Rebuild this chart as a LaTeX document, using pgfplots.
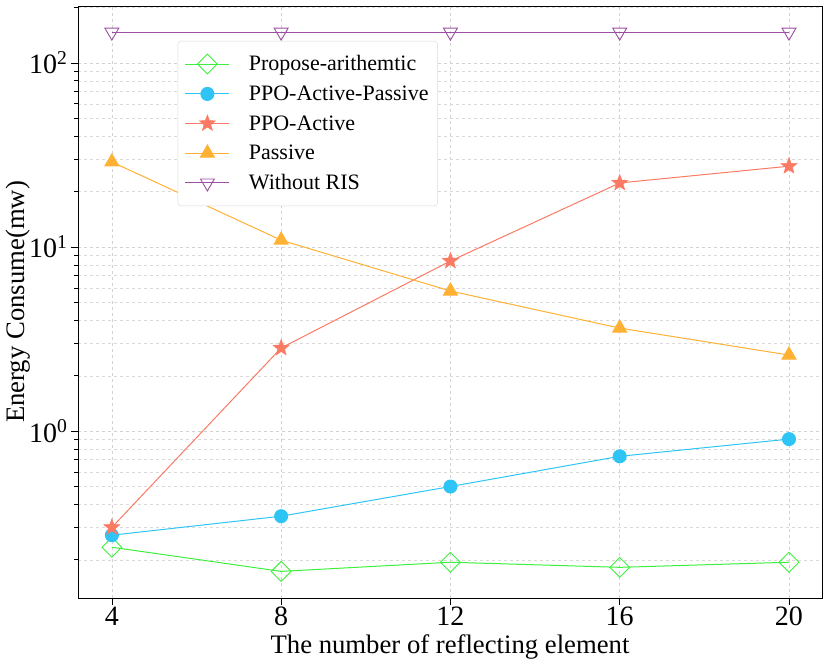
\documentclass[border=0pt]{standalone}
\usepackage{pgfplots}
\pgfplotsset{compat=1.18}
\usepackage{fontspec}
\setmainfont{Liberation Serif}
\definecolor{cgreen}{HTML}{3CF03C}
\definecolor{cblue}{HTML}{2EC4F5}
\definecolor{cred}{HTML}{FA7A64}
\definecolor{corange}{HTML}{FFB133}
\definecolor{cpurple}{HTML}{9B4FA3}
\pgfdeclareplotmark{fstar}{%
  \pgfpathmoveto{\pgfpointpolar{90}{\pgfplotmarksize}}%
  \pgfpathlineto{\pgfpointpolar{126}{0.42\pgfplotmarksize}}%
  \pgfpathlineto{\pgfpointpolar{162}{\pgfplotmarksize}}%
  \pgfpathlineto{\pgfpointpolar{198}{0.42\pgfplotmarksize}}%
  \pgfpathlineto{\pgfpointpolar{234}{\pgfplotmarksize}}%
  \pgfpathlineto{\pgfpointpolar{270}{0.42\pgfplotmarksize}}%
  \pgfpathlineto{\pgfpointpolar{306}{\pgfplotmarksize}}%
  \pgfpathlineto{\pgfpointpolar{342}{0.42\pgfplotmarksize}}%
  \pgfpathlineto{\pgfpointpolar{18}{\pgfplotmarksize}}%
  \pgfpathlineto{\pgfpointpolar{54}{0.42\pgfplotmarksize}}%
  \pgfpathclose\pgfusepathqfillstroke}
\begin{document}
\begin{tikzpicture}
\begin{axis}[
  scale only axis, width=744pt, height=592pt,
  ymode=log, log basis y=10,
  xmin=3.2, xmax=20.78, ymin=0.124, ymax=204,
  xtick={4,8,12,16,20},
  xticklabels={4,8,12,16,20},
  ytick={1,10,100},
  yticklabels={10\textsuperscript{0},10\textsuperscript{1},10\textsuperscript{2}},
  minor ytick={0.2,0.3,0.4,0.5,0.6,0.7,0.8,0.9,2,3,4,5,6,7,8,9,20,30,40,50,60,70,80,90,200},
  grid=both,
  major grid style={dashed, gray!35, line width=0.5pt},
  minor grid style={dashed, gray!30, line width=0.4pt},
  tick style={black, line width=0.7pt},
  tick align=outside, xtick pos=bottom, ytick pos=left,
  minor tick length=4pt, major tick length=7pt,
  tick label style={font=\fontsize{28}{32}\selectfont},
  xticklabel style={inner sep=2pt},
  xlabel={The number of reflecting element},
  ylabel={Energy Consume(mw)},
  label style={font=\fontsize{26.7}{30}\selectfont},
  xlabel style={inner sep=0pt, yshift=-6pt},
  ylabel style={at={(axis description cs:-0.06,0.5)}, anchor=south},
  axis line style={black, line width=0.8pt},
  legend style={at={(0.134,0.941)}, anchor=north west, font=\fontsize{22}{26}\selectfont,
    draw=gray!30, rounded corners=3pt, row sep=9.5pt, inner xsep=7pt, inner ysep=12.5pt,
    /tikz/every odd column/.style={column sep=17pt}},
  legend cell align=left,
  legend image code/.code={\draw[#1, mark repeat=2, mark phase=2] plot coordinates {(0pt,0pt) (22pt,0pt) (44pt,0pt)};},
]
\addplot[cgreen, line width=1pt, mark=square, mark size=7pt, mark options={solid, rotate=45, fill=white, line width=0.9pt}] coordinates {(4,0.234) (8,0.173) (12,0.194) (16,0.182) (20,0.194)};
\addlegendentry{Propose-arithemtic}
\addplot[cblue, line width=1pt, mark=*, mark size=6.5pt, mark options={solid, fill=cblue}] coordinates {(4,0.272) (8,0.345) (12,0.50) (16,0.73) (20,0.905)};
\addlegendentry{PPO-Active-Passive}
\addplot[cred, line width=1pt, mark=fstar, mark size=8.5pt, mark options={solid, fill=cred, line width=0.5pt}] coordinates {(4,0.30) (8,2.83) (12,8.4) (16,22.3) (20,27.5)};
\addlegendentry{PPO-Active}
\addplot[corange, line width=1pt, mark=triangle*, mark size=8pt, mark options={solid, fill=corange}] coordinates {(4,29) (8,10.9) (12,5.77) (16,3.63) (20,2.59)};
\addlegendentry{Passive}
\addplot[cpurple, line width=1pt, mark=triangle, mark size=8pt, mark options={solid, rotate=180, fill=white, line width=0.9pt}] coordinates {(4,147) (8,147) (12,147) (16,147) (20,147)};
\addlegendentry{Without RIS}
\end{axis}
\pgfresetboundingbox
\path (current axis.south west) ++(-78pt,-65pt) coordinate (a);
\path (current axis.north east) ++(8pt,6pt) coordinate (b);
\path[use as bounding box] (a) rectangle (b);
\end{tikzpicture}
\end{document}
